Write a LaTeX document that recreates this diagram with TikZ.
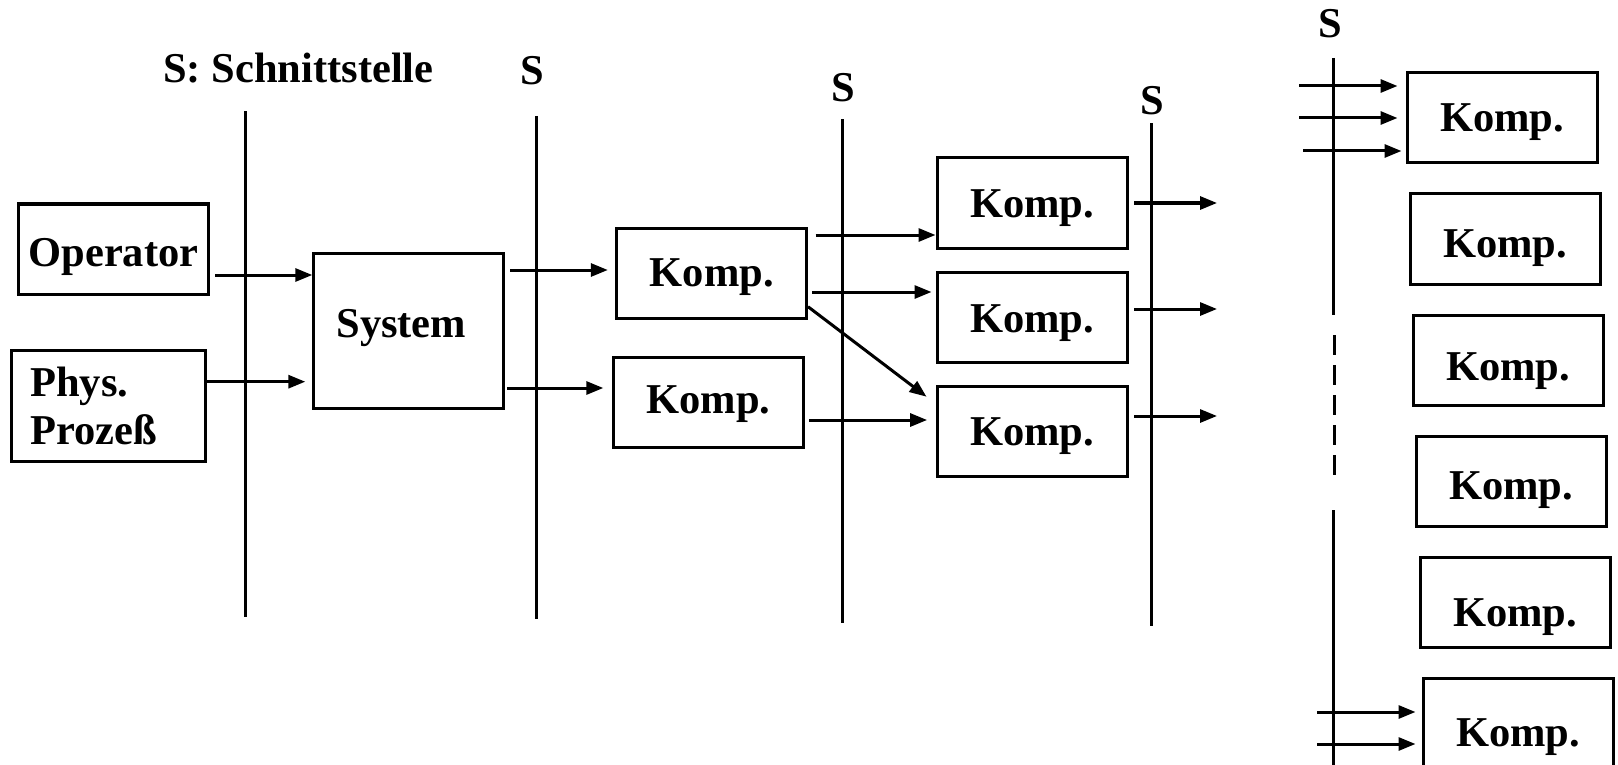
\documentclass[tikz,border=0pt]{standalone}
\usepackage{fontspec}
\setmainfont{Liberation Serif}
\usetikzlibrary{arrows.meta}
\newcommand\dfont{\fontsize{42.5}{48}\selectfont\bfseries}
\tikzset{
  box/.style={draw, line width=3pt, minimum width=190pt, minimum height=90pt,
    inner sep=0pt, font=\dfont, text height=28pt, text depth=0pt},
  arr/.style={line width=3pt, -{Triangle[length=17pt,width=13pt]}},
  sline/.style={line width=3pt},
  dline/.style={line width=3pt, dash pattern=on 20pt off 10pt},
  slabel/.style={font=\dfont, inner sep=0pt, anchor=base}
}
\begin{document}
\begin{tikzpicture}[x=1pt,y=-1pt]
\path[fill=white, use as bounding box] (0,0) rectangle (1618,765);

% interface labels
\node[slabel] (lab0) at (298.5,83) {S: Schnittstelle};
\node[slabel] (lab1) at (532,85) {S};
\node[slabel] (lab2) at (843,102) {S};
\node[slabel] (lab3) at (1152,115) {S};
\node[slabel] (lab4) at (1330,38) {S};

% interface lines
\draw[sline] (245.5,111.5) -- (245.5,617);
\draw[sline] (536.6,116) -- (536.6,619);
\draw[sline] (842.3,119.5) -- (842.3,623);
\draw[sline] (1151.7,123.5) -- (1151.7,626);
\draw[sline] (1333,58) -- (1333,315);
\draw[dline] (1334.5,335) -- (1334.5,482);
\draw[sline] (1333,510) -- (1333,770);

% boxes
\node[box, text height=34pt] (op) at (113.5,249) {Operator};
\node[box, minimum width=194pt, minimum height=111pt, text width=156pt,
      inner xsep=19pt, align=left, text height=, text depth=] (ph) at (108.3,405.5) {Phys.\\Prozeß};
\node[box, minimum width=190pt, minimum height=155pt, text height=27pt, text depth=14pt] (sys) at (408.8,330.5) {System\hspace*{15pt}};
\node[box, text depth=2pt] (ka) at (711.8,273.2) {Komp.};
\node[box, text depth=6pt] (kb) at (708.3,402) {Komp.};
\node[box] (kc) at (1032,203) {Komp.};
\node[box, text height=30pt] (kd) at (1032,317) {Komp.};
\node[box] (ke) at (1032,431) {Komp.};
\node[box] (r1) at (1502,118) {Komp.};
\node[box, text height=37pt] (r2) at (1505,239) {Komp.};
\node[box, text height=40pt] (r3) at (1508,360) {Komp.};
\node[box, text height=36pt] (r4) at (1511,481.5) {Komp.};
\node[box, text height=48pt] (r5) at (1515,602.5) {Komp.};
\node[box, text height=47pt] (r6) at (1518,723) {Komp.};

% arrow start / end points
\coordinate (a1) at (215,275);
\coordinate (a2) at (207,381.7);
\coordinate (a3) at (510,270);
\coordinate (a4) at (507,388);
\coordinate (a5) at (815.5,235);
\coordinate (a6) at (812,292);
\coordinate (a7) at (808,306.7);
\coordinate (a7e) at (926.5,396.7);
\coordinate (a8) at (809,420);
\coordinate (oc) at (1217,203);
\coordinate (od) at (1217,309);
\coordinate (oe) at (1217,416);
\coordinate (i1) at (1299,86);
\coordinate (i2) at (1299,118);
\coordinate (i3) at (1303,151);
\coordinate (i4) at (1317,712);
\coordinate (i5) at (1317,744);

% connectors
\draw[arr] (a1) -- (a1 -| sys.west);
\draw[arr, shorten >=7pt] (a2) -- (a2 -| sys.west);
\draw[arr, shorten >=7.5pt] (a3) -- (a3 -| ka.west);
\draw[arr, shorten >=8.5pt] (a4) -- (a4 -| kb.west);
\draw[arr] (a5) -- (a5 -| kc.west);
\draw[arr, shorten >=4pt] (a6) -- (a6 -| kd.west);
\draw[arr] (a7) -- (a7e);
\draw[arr, shorten >=8.4pt] (a8) -- (a8 -| ke.west);
\draw[arr, shorten <=5.6pt] (kc.east) -- (oc);
\draw[arr, shorten <=5.6pt] (od -| kd.east) -- (od);
\draw[arr, shorten <=5.6pt] (oe -| ke.east) -- (oe);
\draw[arr, shorten >=8pt] (i1) -- (i1 -| r1.west);
\draw[arr, shorten >=8pt] (i2) -- (i2 -| r1.west);
\draw[arr, shorten >=4pt] (i3) -- (i3 -| r1.west);
\draw[arr, shorten >=6pt] (i4) -- (i4 -| r6.west);
\draw[arr, shorten >=6pt] (i5) -- (i5 -| r6.west);
\end{tikzpicture}
\end{document}
